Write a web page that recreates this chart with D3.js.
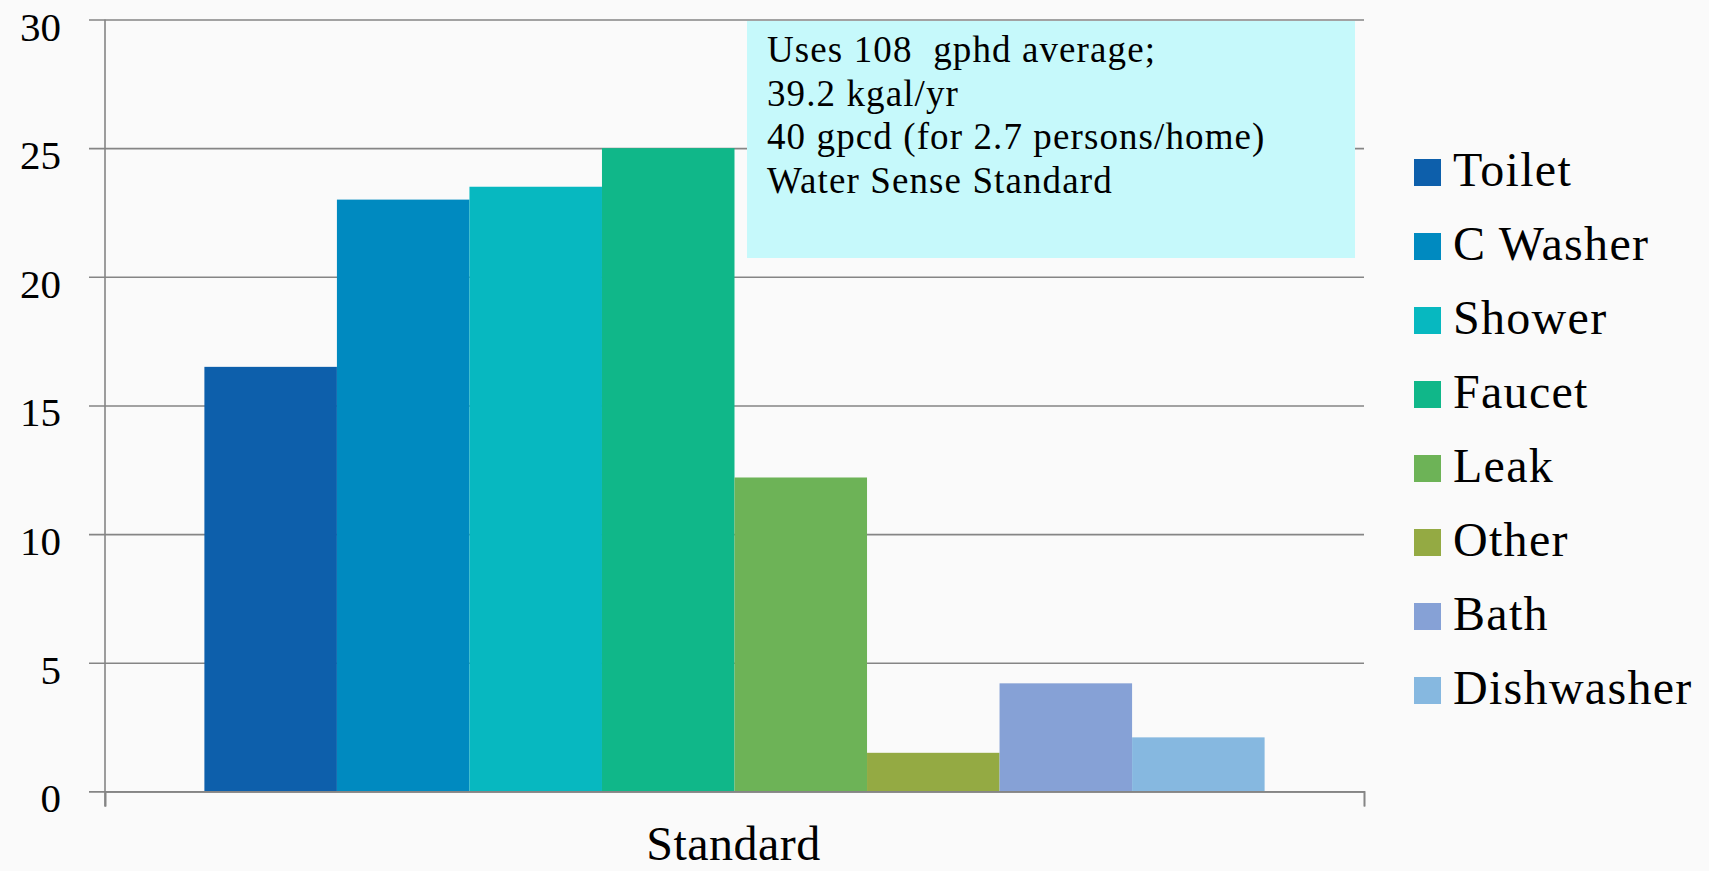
<!DOCTYPE html>
<html>
<head>
<meta charset="utf-8">
<script src="https://cdn.jsdelivr.net/npm/d3@7"></script>
<style>
  html, body { margin: 0; padding: 0; background: #fafafa; }
  svg { display: block; }
  text { font-family: "Liberation Serif", "DejaVu Serif", serif; fill: #000; }
</style>
</head>
<body>
<svg id="chart" width="1709" height="871"></svg>
<script>
// Household water use per end use (gallons per household per day)
const categories = ["Standard"];
const series = ["Toilet", "C Washer", "Shower", "Faucet", "Leak", "Other", "Bath", "Dishwasher"];
const values = [16.5, 23.0, 23.5, 25.0, 12.2, 1.5, 4.2, 2.1];
const colors = ["#0d5fab", "#008ac0", "#07b8c0", "#10b789", "#6db357", "#94aa43", "#86a1d6", "#86b8e0"];
const yTicks = [0, 5, 10, 15, 20, 25, 30];
const noteLines = [
  "Uses 108  gphd average;",
  "39.2 kgal/yr",
  "40 gpcd (for 2.7 persons/home)",
  "Water Sense Standard"
];

const svg = d3.select("#chart");
const plot = { left: 105, right: 1364, top: 19.5, bottom: 791.4 };
const gridColor = "#858585";

const y = d3.scaleLinear().domain([0, 30]).range([plot.bottom, plot.top]);

// one category band; the group of bars leaves a gap of 1.5 bar widths in total
const x0 = d3.scaleBand().domain(categories).range([plot.left, plot.right])
  .paddingInner(0).paddingOuter(0.09375);
const x1 = d3.scaleBand().domain(series).range([0, x0.bandwidth()]).padding(0);

// horizontal gridlines with outer tick marks
const yAxis = d3.axisLeft(y).tickValues(yTicks)
  .tickSize(plot.right - plot.left + 16).tickPadding(28).tickFormat(d3.format("d"));
const gy = svg.append("g").attr("transform", `translate(${plot.right},0)`).call(yAxis);
gy.select(".domain").remove();
gy.selectAll(".tick line").attr("stroke", gridColor).attr("stroke-width", 1.6);
gy.selectAll(".tick text").attr("font-size", 41).attr("dy", "0.5em")
  .attr("font-family", "Liberation Serif, serif").attr("fill", "#000");

// vertical axis line, extending below the baseline
svg.append("line")
  .attr("x1", plot.left).attr("x2", plot.left)
  .attr("y1", plot.top).attr("y2", plot.bottom + 15)
  .attr("stroke", gridColor).attr("stroke-width", 1.6);

// bars
const g = svg.append("g");
categories.forEach(cat => {
  g.selectAll(null).data(series).enter().append("rect")
    .attr("x", s => x0(cat) + x1(s))
    .attr("width", x1.bandwidth())
    .attr("y", (s, i) => y(values[i]))
    .attr("height", (s, i) => y(0) - y(values[i]))
    .attr("fill", (s, i) => colors[i]);
});

// category axis with end tick marks
const xAxis = d3.axisBottom(d3.scaleLinear().domain([0, 1]).range([plot.left, plot.right]))
  .tickValues([0, 1]).tickSize(15).tickFormat("");
const gx = svg.append("g").attr("transform", `translate(0,${plot.bottom})`).call(xAxis);
gx.select(".domain").attr("stroke", gridColor).attr("stroke-width", 1.6);
gx.selectAll(".tick line").attr("stroke", gridColor).attr("stroke-width", 1.6);

svg.selectAll(null).data(categories).enter().append("text")
  .attr("x", d => x0(d) + x0.bandwidth() / 2 - 1)
  .attr("y", 860)
  .attr("text-anchor", "middle")
  .attr("font-size", 48)
  .attr("letter-spacing", 0.5)
  .text(d => d);

// annotation box
svg.append("rect")
  .attr("x", 747).attr("y", 21).attr("width", 608).attr("height", 237)
  .attr("fill", "#c6f9fb");
svg.append("g").selectAll("text").data(noteLines).enter().append("text")
  .attr("x", 767)
  .attr("y", (d, i) => 62 + i * 43.6)
  .attr("font-size", 37)
  .attr("letter-spacing", 1.1)
  .style("white-space", "pre")
  .text(d => d);

// legend
const legend = svg.append("g").selectAll("g").data(series).enter().append("g")
  .attr("transform", (d, i) => `translate(1414,${159 + i * 74})`);
legend.append("rect").attr("width", 27).attr("height", 27)
  .attr("fill", (d, i) => colors[i]);
legend.append("text").attr("x", 39).attr("y", 27)
  .attr("font-size", 48)
  .attr("letter-spacing", 1.3)
  .text(d => d);
</script>
</body>
</html>
